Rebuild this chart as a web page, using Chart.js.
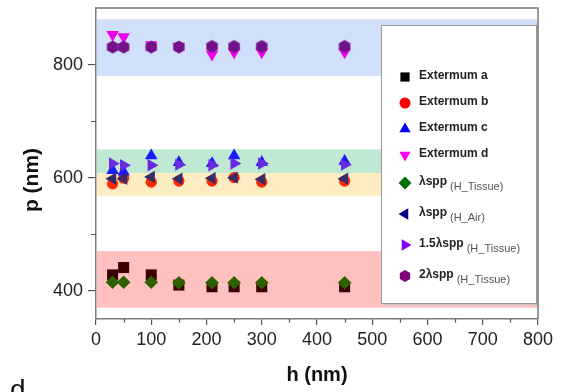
<!DOCTYPE html>
<html>
<head>
<meta charset="utf-8">
<title>p vs h</title>
<script src="https://cdn.jsdelivr.net/npm/chart.js@4/dist/chart.umd.min.js"></script>
<style>
  html, body { margin: 0; padding: 0; background: #fff; }
  #wrap { width: 568px; height: 392px; }
</style>
</head>
<body>
<div id="wrap"><canvas id="chart" width="568" height="392"></canvas></div>
<script>
// ---------------------------------------------------------------------------
// Data
// ---------------------------------------------------------------------------
const hValues = [30, 50, 100, 150, 210, 250, 300, 450];

const extermumA = [428, 441, 428, 410, 407, 407, 407, 407];
const extermumB = [589, 599, 592, 594, 594, 600, 592, 594];
const extermumC = [613, 610, 639, 627, 625, 639, 627, 629];
const extermumD = [853, 849, 835, 832, 818, 822, 822, 822];
const lambdaTissue = [415, 415, 415, 414, 414, 414, 414, 414];
const lambdaAir = [598, 598, 601, 598, 599, 600, 597, 598];
const lambda15Tissue = [625, 622, 622, 623, 622, 625, 625, 623];
const lambda2Tissue = [831, 831, 831, 831, 832, 832, 832, 832];

// shaded bands (p range)
const bandLow = [780, 608, 568, 370];
const bandHigh = [880, 650, 608, 470];

// axis ticks
const xMajorTicks = [0, 100, 200, 300, 400, 500, 600, 700, 800];
const xMinorTicks = [50, 150, 250, 350, 450, 550, 650, 750];
const yMajorTicks = [400, 600, 800];
const yMinorTicks = [500, 700];

// legend text: main part + subscript part
const legendMain = ['Extermum a', 'Extermum b', 'Extermum c', 'Extermum d',
  'λspp', 'λspp', '1.5λspp', '2λspp'];
const legendSub = ['', '', '', '', '(H_Tissue)', '(H_Air)', '(H_Tissue)', '(H_Tissue)'];

// ---------------------------------------------------------------------------
// Styles
// ---------------------------------------------------------------------------
const FONT = '"Liberation Sans", Arial, sans-serif';
const bandColors = ['#d0e0fb', '#bfe9d3', '#fdecc2', '#ffc0c0'];

// hexagon marker as a small canvas
function makeHexagon(color, r) {
  const c = document.createElement('canvas');
  const s = Math.ceil(r * 2 + 2);
  c.width = s; c.height = s;
  const g = c.getContext('2d');
  g.fillStyle = color;
  g.beginPath();
  for (let i = 0; i < 6; i++) {
    const a = Math.PI / 6 + i * Math.PI / 3;
    const px = s / 2 + r * Math.cos(a);
    const py = s / 2 + r * Math.sin(a);
    if (i === 0) g.moveTo(px, py); else g.lineTo(px, py);
  }
  g.closePath();
  g.fill();
  return c;
}

const series = [
  { data: extermumA, color: '#3c0000', legendColor: '#000000', style: 'rect', rot: 0, r: 7.8 },
  { data: extermumB, color: '#ff2a00', legendColor: '#ff0000', style: 'circle', rot: 0, r: 5.6 },
  { data: extermumC, color: '#1a1aff', legendColor: '#0000ff', style: 'triangle', rot: 0, r: 7.2 },
  { data: extermumD, color: '#ee00ee', legendColor: '#ff00ff', style: 'triangle', rot: 180, r: 7.2 },
  { data: lambdaTissue, color: '#2f6000', legendColor: '#007000', style: 'rectRot', rot: 0, r: 6.8 },
  { data: lambdaAir, color: '#3a2c66', legendColor: '#000080', style: 'triangle', rot: -90, r: 7.2 },
  { data: lambda15Tissue, color: '#6a2ae0', legendColor: '#8000ff', style: 'triangle', rot: 90, r: 7.2 },
  { data: lambda2Tissue, color: '#74118a', legendColor: '#800080', style: 'hex', rot: 0, r: 6.6 },
];
const hexMarker = makeHexagon('#74118a', 6.6);
const hexLegend = makeHexagon('#800080', 6);

// ---------------------------------------------------------------------------
// Plugins: shaded bands, frame + minor ticks, legend, titles
// ---------------------------------------------------------------------------
const bandsPlugin = {
  id: 'bands',
  beforeDatasetsDraw(chart) {
    const { ctx, chartArea, scales } = chart;
    ctx.save();
    bandLow.forEach((lo, i) => {
      const y1 = scales.y.getPixelForValue(bandHigh[i]);
      const y2 = scales.y.getPixelForValue(lo);
      ctx.fillStyle = bandColors[i];
      ctx.fillRect(chartArea.left + 1, y1, chartArea.right - chartArea.left - 1, y2 - y1);
    });
    ctx.restore();
  },
};

function drawMarker(ctx, style, rot, r, color, x, y) {
  ctx.save();
  ctx.translate(x, y);
  ctx.rotate(rot * Math.PI / 180);
  ctx.fillStyle = color;
  ctx.beginPath();
  if (style === 'rect') {
    const s = r * Math.SQRT1_2;
    ctx.rect(-s, -s, 2 * s, 2 * s);
  } else if (style === 'circle') {
    ctx.arc(0, 0, r, 0, Math.PI * 2);
  } else if (style === 'triangle') {
    ctx.moveTo(0, -r);
    ctx.lineTo(r * 0.866, r * 0.5);
    ctx.lineTo(-r * 0.866, r * 0.5);
  } else if (style === 'rectRot') {
    ctx.moveTo(0, -r); ctx.lineTo(r, 0); ctx.lineTo(0, r); ctx.lineTo(-r, 0);
  }
  ctx.closePath();
  ctx.fill();
  ctx.restore();
}

const framePlugin = {
  id: 'frame',
  afterDraw(chart) {
    const { ctx, chartArea, scales } = chart;
    ctx.save();
    ctx.strokeStyle = '#7a7a7a';
    ctx.lineWidth = 1.5;
    ctx.beginPath();
    ctx.moveTo(chartArea.left, chartArea.top);
    ctx.lineTo(chartArea.right, chartArea.top);
    ctx.lineTo(chartArea.right, chartArea.bottom);
    ctx.stroke();
    // minor ticks
    ctx.lineWidth = 1.2;
    ctx.strokeStyle = '#555';
    ctx.beginPath();
    xMinorTicks.forEach((v) => {
      const x = Math.round(scales.x.getPixelForValue(v)) + 0.5;
      ctx.moveTo(x, chartArea.bottom);
      ctx.lineTo(x, chartArea.bottom + 3.5);
    });
    yMinorTicks.forEach((v) => {
      const y = Math.round(scales.y.getPixelForValue(v)) + 0.5;
      ctx.moveTo(chartArea.left, y);
      ctx.lineTo(chartArea.left - 5, y);
    });
    ctx.stroke();

    // y axis title
    ctx.fillStyle = '#111';
    ctx.font = `bold 21px ${FONT}`;
    ctx.textAlign = 'center';
    ctx.textBaseline = 'middle';
    ctx.save();
    ctx.translate(32, 180);
    ctx.rotate(-Math.PI / 2);
    ctx.fillText('p (nm)', 0, 0);
    ctx.restore();

    // panel label
    ctx.textAlign = 'left';
    ctx.textBaseline = 'alphabetic';
    ctx.font = `28px ${FONT}`;
    ctx.fillText('d', 10, 399);
    ctx.restore();
  },
};

const legendPlugin = {
  id: 'boxLegend',
  afterDatasetsDraw(chart) {
    const { ctx } = chart;
    const bx = 381, by = 25, bw = 155, bh = 278;
    ctx.save();
    ctx.fillStyle = '#c4c4c4';
    ctx.fillRect(bx + 2, by + 2, bw, bh);
    ctx.fillStyle = '#ffffff';
    ctx.fillRect(bx, by, bw, bh);
    ctx.strokeStyle = '#9a9a9a';
    ctx.lineWidth = 1;
    ctx.strokeRect(bx + 0.5, by + 0.5, bw, bh);

    const rowY = [77, 103, 129, 155, 183, 214, 245, 276];
    const markerX = 405;
    const textX = 419;
    series.forEach((s, i) => {
      const y = rowY[i];
      if (s.style === 'hex') {
        ctx.drawImage(hexLegend, markerX - hexLegend.width / 2, y - hexLegend.height / 2);
      } else {
        const r = s.style === 'rect' ? 6.5 : (s.style === 'circle' ? 5.5 : 6.5);
        drawMarker(ctx, s.style, s.rot, r, s.legendColor, markerX, y);
      }
      ctx.textBaseline = 'middle';
      ctx.textAlign = 'left';
      ctx.fillStyle = '#222';
      ctx.font = `bold 12px ${FONT}`;
      ctx.fillText(legendMain[i], textX, y - 1);
      if (legendSub[i]) {
        const w = ctx.measureText(legendMain[i]).width;
        ctx.fillStyle = '#555';
        ctx.font = `11px ${FONT}`;
        ctx.fillText(legendSub[i], textX + w + 3, y + 4);
      }
    });
    ctx.restore();
  },
};

// ---------------------------------------------------------------------------
// Chart
// ---------------------------------------------------------------------------
const datasets = series.map((s, i) => ({
  label: legendMain[i] + (legendSub[i] ? ' ' + legendSub[i] : ''),
  data: hValues.map((h, k) => ({ x: h, y: s.data[k] })),
  pointStyle: s.style === 'hex' ? hexMarker : s.style,
  rotation: s.rot,
  pointRadius: s.r,
  pointHoverRadius: s.r,
  pointBorderWidth: 0,
  backgroundColor: s.color,
  borderColor: s.color,
  showLine: false,
  order: 20 - i, // later series drawn on top
}));

function tickFont() {
  return { family: FONT, size: 18 };
}

new Chart(document.getElementById('chart'), {
  type: 'scatter',
  data: { datasets },
  options: {
    responsive: false,
    animation: false,
    layout: { padding: { top: 8, right: 30, left: 0, bottom: 0 } },
    plugins: {
      legend: { display: false },
      tooltip: { enabled: false },
    },
    scales: {
      x: {
        type: 'linear',
        min: 0,
        max: 800,
        afterBuildTicks: (sc) => { sc.ticks = xMajorTicks.map((v) => ({ value: v })); },
        afterFit: (sc) => { sc.height = 73; sc.paddingLeft = 0; sc.paddingRight = 0; },
        ticks: { font: tickFont(), color: '#222', padding: 4, maxRotation: 0 },
        grid: { drawOnChartArea: false, tickLength: 6, color: '#555', lineWidth: 1.2 },
        border: { color: '#7a7a7a', width: 1.5 },
        title: {
          display: true,
          text: 'h (nm)',
          color: '#111',
          font: { family: FONT, size: 20, weight: 'bold' },
          padding: { top: 0, bottom: 5 },
        },
      },
      y: {
        type: 'linear',
        min: 350,
        max: 900,
        afterBuildTicks: (sc) => { sc.ticks = yMajorTicks.map((v) => ({ value: v })); },
        afterFit: (sc) => { sc.width = 96; sc.paddingTop = 0; sc.paddingBottom = 0; },
        ticks: { font: tickFont(), color: '#222', padding: 5 },
        grid: { drawOnChartArea: false, tickLength: 8, color: '#555', lineWidth: 1.2 },
        border: { color: '#7a7a7a', width: 1.5 },
      },
    },
  },
  plugins: [bandsPlugin, legendPlugin, framePlugin],
});
</script>
</body>
</html>
